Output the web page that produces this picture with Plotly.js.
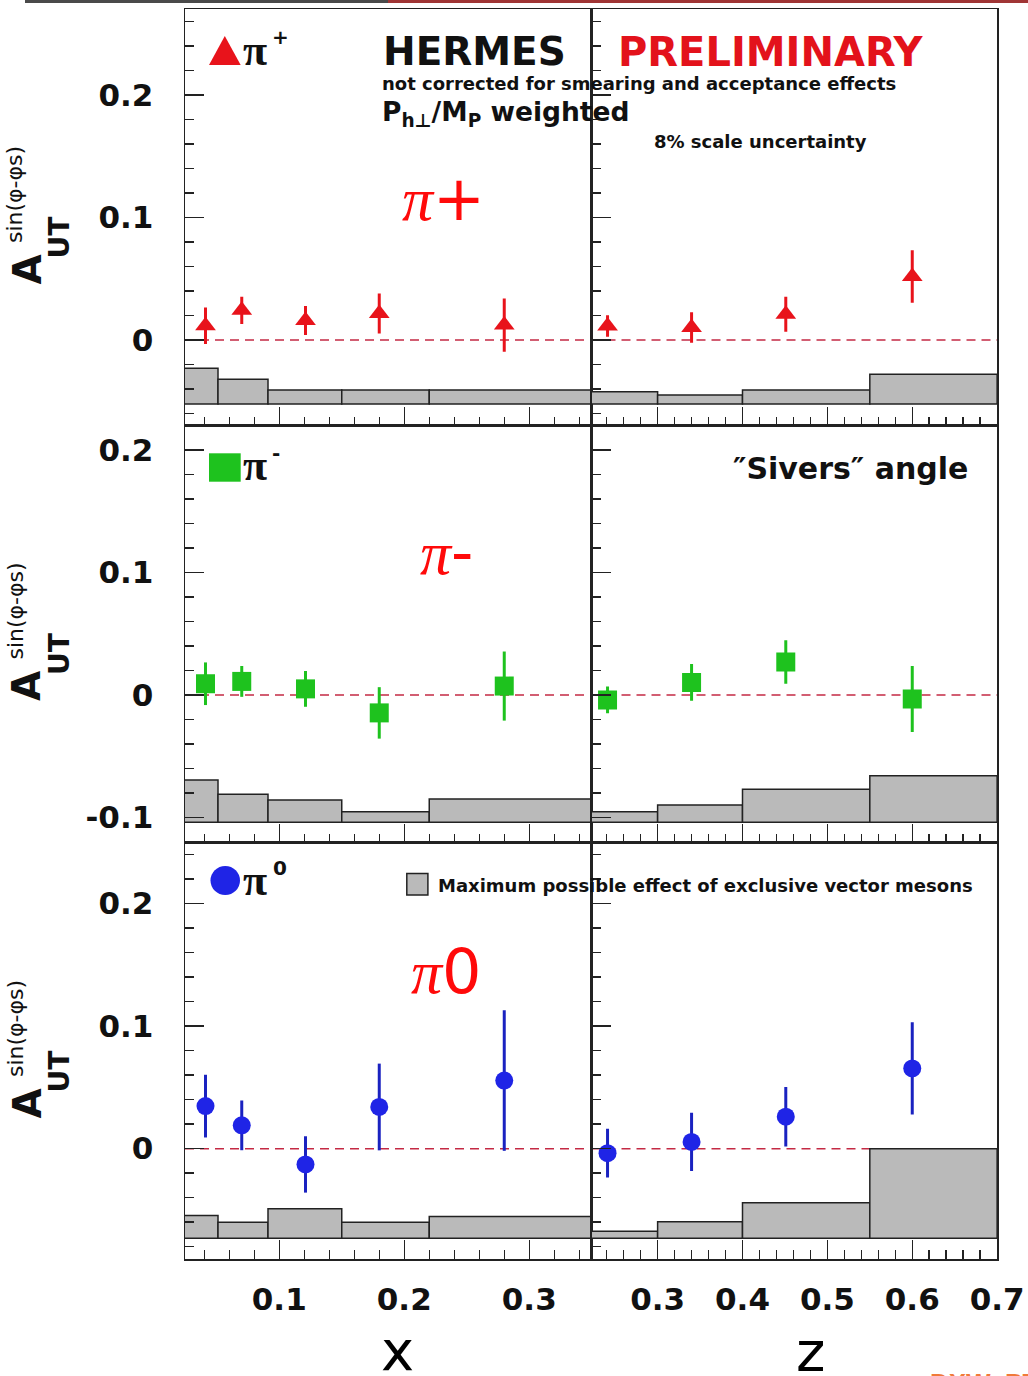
<!DOCTYPE html>
<html><head><meta charset="utf-8">
<script src="https://cdn.plot.ly/plotly-3.0.1.min.js"></script>
<style>html,body{margin:0;padding:0;background:#fff}#chart{width:1028px;height:1376px}</style>
</head><body><div id="chart"></div>
<script>
// ---------------- data ----------------
const xBinEdges = [0.023, 0.051, 0.091, 0.15, 0.22, 0.4];
const zBinEdges = [0.2, 0.3, 0.4, 0.55, 0.7];
const xMeans = [0.041, 0.070, 0.121, 0.180, 0.280];
const zMeans = [0.241, 0.340, 0.451, 0.600];

const piPlusVsX     = [0.0117, 0.0242, 0.0159, 0.0217, 0.0122];
const piPlusVsXErr  = [0.0149, 0.0111, 0.0118, 0.0163, 0.0217];
const piPlusVsZ     = [0.0115, 0.0102, 0.0210, 0.0519];
const piPlusVsZErr  = [0.0088, 0.0124, 0.0143, 0.0214];

const piMinusVsX    = [0.0092, 0.0111, 0.0050, -0.0146, 0.0073];
const piMinusVsXErr = [0.0174, 0.0126, 0.0146, 0.0210, 0.0282];
const piMinusVsZ    = [-0.0040, 0.0103, 0.0269, -0.0033];
const piMinusVsZErr = [0.0109, 0.0150, 0.0177, 0.0269];

const piZeroVsX     = [0.0347, 0.0190, -0.0129, 0.0340, 0.0556];
const piZeroVsXErr  = [0.0256, 0.0203, 0.0230, 0.0354, 0.0574];
const piZeroVsZ     = [-0.0037, 0.0055, 0.0261, 0.0655];
const piZeroVsZErr  = [0.0199, 0.0237, 0.0243, 0.0376];

// vector-meson bands: baseline per row, band heights per bin
const bandBase      = [-0.0522, -0.1039, -0.0731];
const bandPiPlusX   = [0.0291, 0.0201, 0.0114, 0.0114, 0.0114];
const bandPiPlusZ   = [0.0100, 0.0073, 0.0114, 0.0242];
const bandPiMinusX  = [0.0345, 0.0228, 0.0182, 0.0086, 0.0190];
const bandPiMinusZ  = [0.0086, 0.0141, 0.0269, 0.0380];
const bandPiZeroX   = [0.0186, 0.0129, 0.0240, 0.0129, 0.0177];
const bandPiZeroZ   = [0.0057, 0.0134, 0.0290, 0.0731];

const xTickVals = [0.1, 0.2, 0.3];
const xTickText = ['0.1', '0.2', '0.3'];
const zTickVals = [0.3, 0.4, 0.5, 0.6, 0.7];
const zTickText = ['0.3', '0.4', '0.5', '0.6', '0.7'];
const yTickVals = [-0.1, 0, 0.1, 0.2];
const yTickText = ['-0.1', '0', '0.1', '0.2'];

// ---------------- layout helpers ----------------
const W = 1028, H = 1376;
const px = x => x / W;
const py = y => 1 - y / H;

const colDomains = [[185 / W, 591.5 / W], [591.5 / W, 997.3 / W]];
const rowDomains = [[py(425.5), py(9.3)], [py(842.5), py(425.5)], [py(1259), py(842.5)]];
const colRanges = [[0.0246, 0.3498], [0.2221, 0.7002]];
const rowRanges = [[-0.0698, 0.2700], [-0.1204, 0.2200], [-0.0901, 0.2499]];

const rows = [
  {color: '#e8131b', errColor: '#e8131b', symbol: 'triangle-up', size: 18,
   vals: [piPlusVsX, piPlusVsZ], errs: [piPlusVsXErr, piPlusVsZErr], bands: [bandPiPlusX, bandPiPlusZ]},
  {color: '#1ec21e', errColor: '#1ec21e', symbol: 'square', size: 19,
   vals: [piMinusVsX, piMinusVsZ], errs: [piMinusVsXErr, piMinusVsZErr], bands: [bandPiMinusX, bandPiMinusZ]},
  {color: '#1f24e6', errColor: '#1a22c0', symbol: 'circle', size: 18,
   vals: [piZeroVsX, piZeroVsZ], errs: [piZeroVsXErr, piZeroVsZErr], bands: [bandPiZeroX, bandPiZeroZ]}
];
const edgesByCol = [xBinEdges, zBinEdges];
const meansByCol = [xMeans, zMeans];

const LINE = '#222';
const tickFont = {family: 'DejaVu Sans', size: 31, color: '#111', weight: 'bold'};

const traces = [];
const layout = {
  width: W, height: H, margin: {l: 0, r: 0, t: 0, b: 0},
  paper_bgcolor: '#fff', plot_bgcolor: '#fff', showlegend: false,
  barmode: 'overlay', shapes: [], annotations: []
};

for (let r = 0; r < 3; r++) {
  for (let c = 0; c < 2; c++) {
    const n = r * 2 + c + 1;
    const xa = 'xaxis' + (n === 1 ? '' : n), ya = 'yaxis' + (n === 1 ? '' : n);
    const xr = 'x' + (n === 1 ? '' : n), yr = 'y' + (n === 1 ? '' : n);
    layout[xa] = {
      domain: colDomains[c], range: colRanges[c], anchor: yr,
      tickmode: 'array', tickvals: c === 0 ? xTickVals : zTickVals, ticktext: c === 0 ? xTickText : zTickText,
      ticks: 'inside', ticklen: 19, tickwidth: 1.5, tickcolor: LINE,
      minor: {tickmode: 'linear', tick0: 0, dtick: 0.02, ticks: 'inside', ticklen: 9, tickwidth: 1.5, tickcolor: LINE},
      showticklabels: r === 2, tickfont: tickFont, ticklabelstandoff: 12,
      showline: true, mirror: true, linecolor: LINE, linewidth: 1.5,
      showgrid: false, zeroline: false, fixedrange: true
    };
    layout[ya] = {
      domain: rowDomains[r], range: rowRanges[r], anchor: xr,
      tickmode: 'array', tickvals: yTickVals, ticktext: yTickText,
      ticks: 'inside', ticklen: 19, tickwidth: 1.5, tickcolor: LINE,
      minor: {tickmode: 'linear', tick0: 0, dtick: 0.02, ticks: 'inside', ticklen: 9, tickwidth: 1.5, tickcolor: LINE},
      showticklabels: c === 0, tickfont: tickFont, ticklabelstandoff: 24,
      showline: true, mirror: true, linecolor: LINE, linewidth: 1.5,
      showgrid: false, zeroline: false, fixedrange: true
    };
    const edges = edgesByCol[c];
    const centers = edges.slice(0, -1).map((e, i) => (e + edges[i + 1]) / 2);
    const widths = edges.slice(0, -1).map((e, i) => edges[i + 1] - e);
    traces.push({
      type: 'bar', x: centers, width: widths, y: rows[r].bands[c], base: bandBase[r],
      xaxis: xr, yaxis: yr, hoverinfo: 'skip',
      marker: {color: '#bababa', line: {color: LINE, width: 1.5}}
    });
    traces.push({
      type: 'scatter', mode: 'markers', x: meansByCol[c], y: rows[r].vals[c],
      xaxis: xr, yaxis: yr, hoverinfo: 'skip',
      marker: {symbol: rows[r].symbol, size: rows[r].size, color: rows[r].color, line: {width: 0}},
      error_y: {type: 'data', array: rows[r].errs[c], visible: true, thickness: 3, width: 0, color: rows[r].errColor}
    });
    layout.shapes.push({
      type: 'line', xref: xr + ' domain', yref: yr, x0: 0, x1: 1, y0: 0, y1: 0, layer: 'below',
      line: {color: '#c42a44', width: 1.5, dash: '9px,6px'}
    });
  }
}

// ---------------- decorations ----------------
function txt(text, x, y, size, opt) {
  const o = Object.assign({
    xref: 'paper', yref: 'paper', x: px(x), y: py(y), text: text, showarrow: false,
    xanchor: 'left', yanchor: 'middle',
    font: {family: 'DejaVu Sans', size: size, color: '#111', weight: 'bold'}
  }, opt || {});
  return o;
}
const A = layout.annotations;
A.push(txt('HERMES', 381, 51.5, 39));
A.push(txt('PRELIMINARY', 616, 51.7, 40, {font: {family: 'DejaVu Sans', size: 40, color: '#e3121b', weight: 'bold'}}));
A.push(txt('not corrected for smearing and acceptance effects', 380, 83.8, 18));
A.push(txt('P<sub>h\u22a5</sub>/M<sub>P</sub> weighted', 380, 113.7, 26.5));
A.push(txt('8% scale uncertainty', 652, 141.8, 18));
A.push(txt('\u2033Sivers\u2033 angle', 731, 468.6, 30));
A.push(txt('Maximum possible effect of exclusive vector mesons', 436, 885.8, 18));

// legend pi glyphs
const piFont = {family: 'Liberation Serif', size: 44, color: '#111', weight: 'bold'};
A.push(txt('\u03c0', 241, 50.5, 44, {font: piFont}));
A.push(txt('\u03c0', 241, 465.5, 44, {font: piFont}));
A.push(txt('\u03c0', 241, 880.5, 44, {font: piFont}));
A.push(txt('+', 280, 37, 20, {xanchor: 'center'}));
A.push(txt('-', 276, 453, 20, {xanchor: 'center'}));
A.push(txt('0', 280, 867.5, 20, {xanchor: 'center'}));

// big red labels
const redFont = {family: 'DejaVu Sans', size: 62, color: '#ff0a0a'};
const piSpan = '<span style="font-family:Liberation Serif"><i>\u03c0</i></span>';
A.push(txt(piSpan + '+', 400, 198.5, 62, {font: redFont}));
A.push(txt(piSpan + '-', 418, 552.5, 62, {font: redFont}));
A.push(txt(piSpan + '0', 409, 971.5, 62, {font: redFont}));

// y titles
const rowOffsets = [0, 416.5, 834];
rowOffsets.forEach(dy => {
  A.push(txt('A', 26.5, 270 + dy, 39, {xanchor: 'center', textangle: -90}));
  A.push(txt('UT', 59, 237.5 + dy, 28, {xanchor: 'center', textangle: -90}));
  A.push(txt('sin(\u03c6-\u03c6s)', 15, 195 + dy, 22, {xanchor: 'center', textangle: -90,
    font: {family: 'DejaVu Sans', size: 22, color: '#111', weight: 'normal'}}));
});

// x titles
const axFont = {family: 'DejaVu Sans', size: 56, color: '#000'};
A.push(txt('x', 397, 1350, 56, {xanchor: 'center', font: axFont}));
A.push(txt('z', 810, 1351, 56, {xanchor: 'center', font: axFont}));

// cut-off orange text at the bottom edge
A.push(txt('DXW_PT', 928, 1366, 26, {yanchor: 'top',
  font: {family: 'Liberation Sans', size: 26, color: '#f07a3a', weight: 'bold'}}));

// legend keys
const S = layout.shapes;
S.push({type: 'path', xref: 'paper', yref: 'paper',
  path: 'M ' + px(209) + ',' + py(65) + ' L ' + px(240.7) + ',' + py(65) + ' L ' + px(224.8) + ',' + py(36) + ' Z',
  fillcolor: '#e8131b', line: {width: 0}});
S.push({type: 'rect', xref: 'paper', yref: 'paper',
  x0: px(209), x1: px(240.7), y0: py(481.7), y1: py(453.3), fillcolor: '#1ec21e', line: {width: 0}});
S.push({type: 'circle', xref: 'paper', yref: 'paper',
  x0: px(210.5), x1: px(240), y0: py(895), y1: py(866), fillcolor: '#1f24e6', line: {width: 0}});
S.push({type: 'rect', xref: 'paper', yref: 'paper',
  x0: px(406.8), x1: px(427.9), y0: py(895.1), y1: py(873.5), fillcolor: '#bababa', line: {color: LINE, width: 1.5}});

// slide border at the very top
S.push({type: 'line', xref: 'paper', yref: 'paper', x0: px(25), x1: px(388), y0: py(1.5), y1: py(1.5),
  line: {color: '#4a4a4a', width: 3}});
S.push({type: 'line', xref: 'paper', yref: 'paper', x0: px(388), x1: px(1028), y0: py(1.5), y1: py(1.5),
  line: {color: '#a03535', width: 3}});

Plotly.newPlot('chart', traces, layout, {displayModeBar: false, staticPlot: true});
</script></body></html>
